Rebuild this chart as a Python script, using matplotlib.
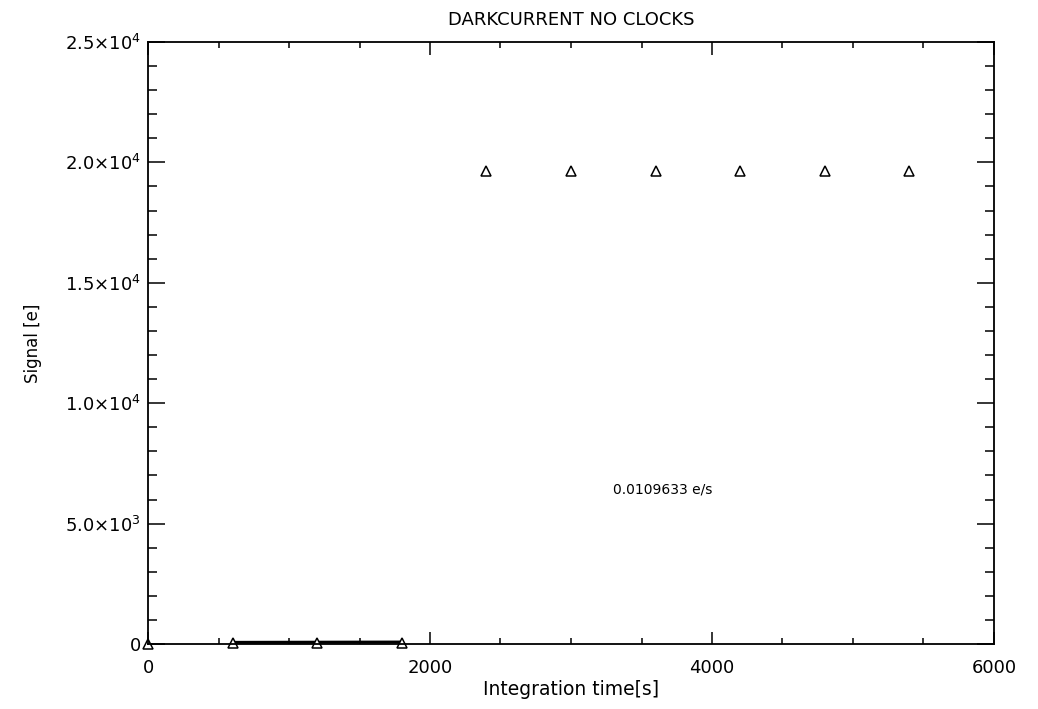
import matplotlib
matplotlib.use("Agg")
import matplotlib.pyplot as plt
from matplotlib.ticker import MultipleLocator, FixedLocator, FixedFormatter
import numpy as np

# Data
time_s = [0, 600, 1200, 1800, 2400, 3000, 3600, 4200, 4800, 5400]
signal_e = [20, 30, 40, 45, 19650, 19650, 19650, 19650, 19650, 19650]
fit_x = [600, 1800]
fit_rate = 0.0109633
fit_intercept = 60
fit_y = [fit_intercept + fit_rate * t for t in fit_x]

ytick_vals = [0, 5000, 10000, 15000, 20000, 25000]
ytick_labels = ["0", r"5.0$\times$10$^{3}$", r"1.0$\times$10$^{4}$",
                r"1.5$\times$10$^{4}$", r"2.0$\times$10$^{4}$", r"2.5$\times$10$^{4}$"]
xtick_vals = [0, 2000, 4000, 6000]
xtick_labels = ["0", "2000", "4000", "6000"]

title = "DARKCURRENT NO CLOCKS"
xlabel = "Integration time[s]"
ylabel = "Signal [e]"
annot = "0.0109633 e/s"

plt.rcParams['mathtext.fontset'] = 'dejavusans'
fig = plt.figure(figsize=(10.38, 7.09), dpi=100)
ax = fig.add_axes([148/1038, 1 - 644/709, (994-148)/1038, (644-42)/709])

ax.plot(fit_x, fit_y, color='black', lw=2.2)
ax.plot(time_s, signal_e, linestyle='none', marker='^', markersize=7.5,
        markerfacecolor='white', markeredgecolor='black', markeredgewidth=1.1,
        clip_on=False)

ax.set_xlim(0, 6000)
ax.set_ylim(0, 25000)
ax.xaxis.set_major_locator(FixedLocator(xtick_vals))
ax.xaxis.set_major_formatter(FixedFormatter(xtick_labels))
ax.xaxis.set_minor_locator(MultipleLocator(500))
ax.yaxis.set_major_locator(FixedLocator(ytick_vals))
ax.yaxis.set_major_formatter(FixedFormatter(ytick_labels))
ax.yaxis.set_minor_locator(MultipleLocator(1000))

ax.tick_params(axis='both', which='both', direction='in', top=True, right=True,
               width=1.1, colors='black')
ax.tick_params(axis='x', which='major', length=9, pad=11, labelsize=13)
ax.tick_params(axis='x', which='minor', length=4.5)
ax.tick_params(axis='y', which='major', length=12, pad=5, labelsize=13)
ax.tick_params(axis='y', which='minor', length=6.5)
for s in ax.spines.values():
    s.set_linewidth(1.3)

ax.set_title(title, fontsize=13, pad=12)
ax.set_xlabel(xlabel, fontsize=13.5, labelpad=2)
ax.set_ylabel(ylabel, fontsize=12)
ax.yaxis.set_label_coords((42 - 148) / 846, 0.5)
ax.text(3300, 6400, annot, fontsize=10, ha='left', va='center')

fig.savefig("out.png", dpi=100)
